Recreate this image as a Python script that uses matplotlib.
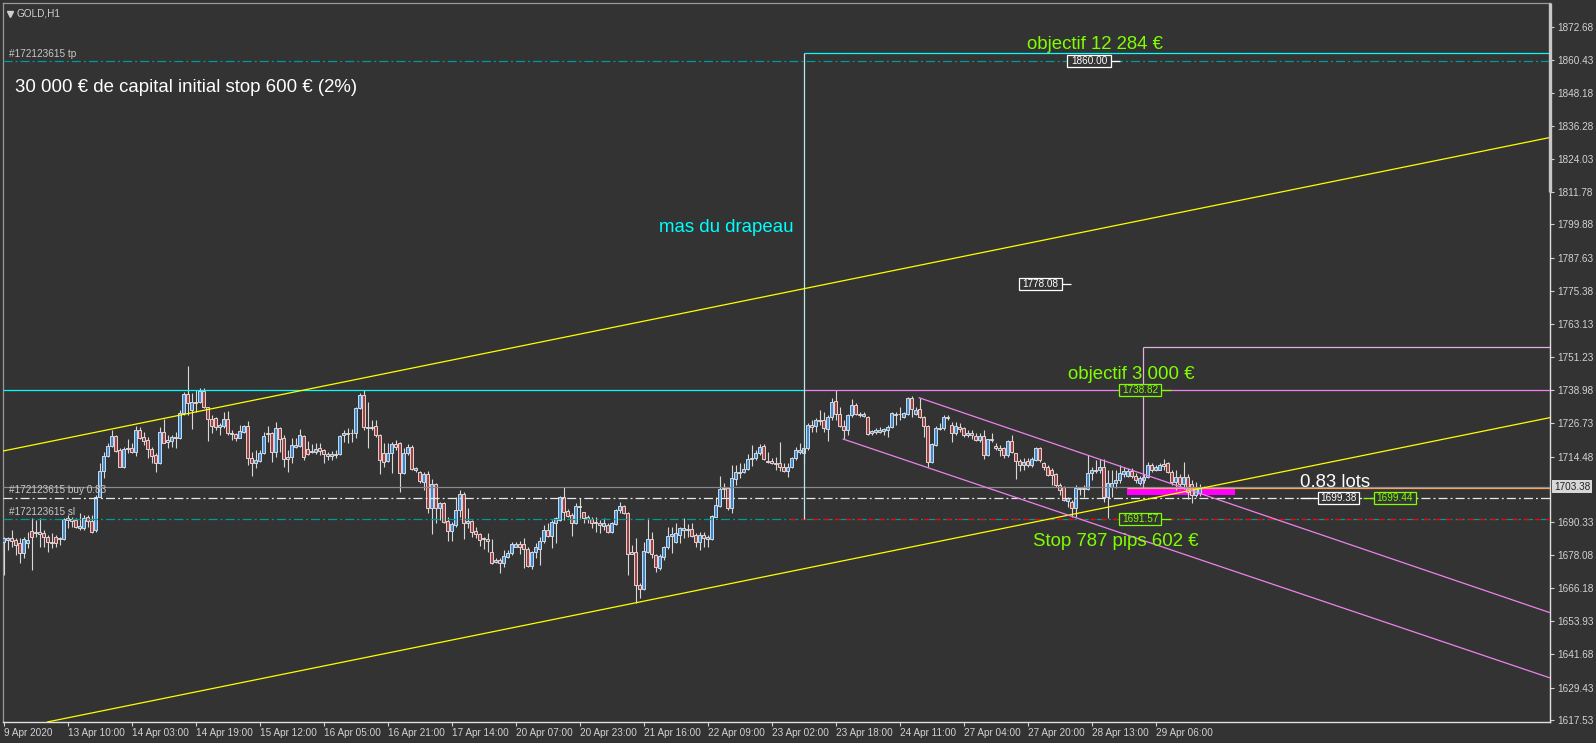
import numpy as np
import matplotlib.pyplot as plt
from matplotlib.patches import Rectangle

plt.rcParams['font.family'] = ['Liberation Sans', 'DejaVu Sans']
plt.rcParams['lines.scale_dashes'] = False

# ---- GOLD H1 candles ----
opens = [1682.9, 1683.9, 1684.4, 1683.8, 1682.8, 1678.9, 1682.8, 1687.2, 1686.2, 1686.6,
         1686.5, 1684.7, 1682.9, 1684.7, 1684.1, 1684.3, 1691.1, 1691.5, 1691.1, 1688.1,
         1688.1, 1692.1, 1690.9, 1687.4, 1699.7, 1709.3, 1714.7, 1718.5, 1722.0, 1716.9,
         1710.5, 1717.1, 1717.5, 1716.0, 1724.3, 1721.8, 1720.6, 1717.1, 1714.9, 1712.0,
         1723.4, 1720.6, 1720.3, 1721.2, 1721.2, 1730.4, 1737.5, 1731.6, 1734.4, 1734.4,
         1738.7, 1732.6, 1728.3, 1728.5, 1725.5, 1725.7, 1728.2, 1723.3, 1722.7, 1721.4,
         1723.6, 1725.7, 1713.8, 1712.0, 1713.0, 1715.7, 1722.8, 1723.3, 1716.3, 1724.9,
         1721.2, 1714.4, 1714.2, 1718.1, 1718.5, 1722.0, 1717.3, 1716.6, 1716.3, 1717.5,
         1716.9, 1715.4, 1714.7, 1715.0, 1715.4, 1722.4, 1722.8, 1723.3, 1723.0, 1732.2,
         1737.1, 1725.5, 1725.0, 1725.7, 1722.4, 1715.7, 1713.0, 1715.7, 1719.0, 1719.3,
         1708.3, 1715.7, 1717.9, 1709.5, 1708.9, 1705.2, 1708.1, 1695.4, 1704.4, 1695.4,
         1697.3, 1690.9, 1687.2, 1689.3, 1694.8, 1700.7, 1689.9, 1690.8, 1687.1, 1686.0,
         1684.4, 1684.1, 1679.5, 1675.5, 1676.4, 1675.2, 1677.6, 1678.9, 1681.3, 1682.3,
         1682.3, 1680.3, 1674.2, 1679.2, 1680.4, 1683.5, 1687.4, 1685.4, 1689.9, 1691.1,
         1699.7, 1694.4, 1693.0, 1689.9, 1696.0, 1693.9, 1692.4, 1691.5, 1690.5, 1690.1,
         1689.0, 1689.3, 1686.8, 1689.7, 1694.8, 1696.3, 1693.8, 1679.4, 1679.4, 1667.2,
         1665.6, 1679.5, 1684.1, 1678.2, 1673.3, 1677.6, 1681.1, 1685.2, 1683.1, 1685.6,
         1687.4, 1687.8, 1687.8, 1685.6, 1683.1, 1685.6, 1684.3, 1684.1, 1692.3, 1696.4,
         1702.4, 1702.8, 1695.4, 1706.1, 1708.5, 1708.7, 1709.8, 1713.5, 1713.8, 1715.7,
         1718.5, 1712.8, 1712.8, 1712.2, 1712.0, 1710.5, 1709.3, 1710.5, 1713.8, 1716.3,
         1715.6, 1717.5, 1726.1, 1725.7, 1727.7, 1728.1, 1724.5, 1729.1, 1734.9, 1730.3,
         1725.7, 1724.2, 1729.7, 1733.4, 1730.3, 1729.4, 1729.1, 1723.0, 1723.5, 1723.6,
         1723.9, 1724.2, 1725.2, 1730.3, 1730.0, 1729.1, 1730.3, 1736.1, 1730.3, 1731.8,
         1729.1, 1725.7, 1712.6, 1718.7, 1724.8, 1724.8, 1729.1, 1726.1, 1723.0, 1725.2,
         1724.8, 1722.4, 1723.0, 1722.1, 1720.5, 1722.0, 1715.0, 1721.1, 1718.3, 1717.5,
         1717.5, 1715.0, 1720.3, 1715.6, 1712.9, 1711.3, 1712.8, 1711.3, 1713.2, 1717.5,
         1712.0, 1710.7, 1709.7, 1708.0, 1704.0, 1703.1, 1698.2, 1697.8, 1695.4, 1702.4,
         1702.8, 1702.4, 1708.3, 1709.7, 1709.5, 1710.7, 1699.7, 1703.4, 1704.6, 1705.8,
         1708.0, 1707.3, 1709.2, 1707.3, 1704.8, 1705.8, 1706.8, 1711.3, 1709.7, 1709.7,
         1711.6, 1712.0, 1708.9, 1705.2, 1707.0, 1704.2, 1706.8, 1704.5, 1700.5, 1701.0, 1703.4]
highs = [1685.0, 1685.0, 1687.4, 1684.4, 1684.4, 1685.0, 1686.8, 1691.7, 1691.1, 1691.7,
         1687.4, 1685.6, 1686.2, 1685.6, 1685.0, 1691.7, 1693.0, 1692.4, 1691.7, 1693.6,
         1693.0, 1693.0, 1693.0, 1700.3, 1712.2, 1716.3, 1719.3, 1724.3, 1722.4, 1717.5,
         1718.1, 1720.8, 1719.3, 1725.7, 1725.2, 1723.6, 1721.5, 1718.1, 1715.7, 1725.5,
         1728.2, 1722.4, 1722.4, 1723.6, 1731.6, 1738.4, 1747.8, 1737.8, 1739.0, 1739.6,
         1739.6, 1732.8, 1729.8, 1729.2, 1726.7, 1731.0, 1731.4, 1724.3, 1723.0, 1726.1,
         1726.1, 1727.7, 1716.3, 1716.9, 1716.9, 1723.6, 1725.7, 1723.6, 1727.3, 1725.2,
         1722.4, 1716.9, 1721.2, 1721.2, 1724.5, 1722.4, 1720.3, 1719.1, 1719.3, 1719.3,
         1717.3, 1716.3, 1716.6, 1716.9, 1722.4, 1724.3, 1724.9, 1724.5, 1732.8, 1737.7,
         1739.0, 1734.7, 1727.9, 1727.9, 1722.8, 1719.3, 1719.6, 1720.0, 1720.6, 1720.0,
         1717.5, 1719.0, 1718.7, 1710.8, 1709.3, 1708.9, 1709.3, 1706.1, 1704.6, 1697.9,
         1697.9, 1692.4, 1690.5, 1699.7, 1702.2, 1701.6, 1695.4, 1691.1, 1688.4, 1686.5,
         1685.0, 1686.5, 1684.0, 1677.0, 1677.0, 1680.1, 1680.1, 1683.1, 1683.1, 1683.5,
         1684.4, 1681.3, 1679.8, 1682.5, 1684.7, 1689.3, 1689.9, 1691.1, 1692.4, 1700.0,
         1703.1, 1695.0, 1693.6, 1697.3, 1699.1, 1694.2, 1693.0, 1692.4, 1692.4, 1691.1,
         1691.7, 1689.9, 1690.5, 1695.0, 1697.9, 1696.6, 1694.2, 1681.9, 1684.4, 1667.8,
         1683.1, 1691.7, 1686.8, 1678.6, 1678.6, 1681.6, 1688.7, 1688.7, 1689.9, 1688.7,
         1691.7, 1689.7, 1689.9, 1686.5, 1686.8, 1686.8, 1685.6, 1693.0, 1699.7, 1707.3,
         1704.6, 1703.4, 1711.4, 1711.4, 1712.0, 1712.0, 1715.4, 1718.7, 1716.9, 1719.0,
         1719.0, 1716.3, 1713.8, 1714.2, 1719.8, 1712.0, 1712.0, 1714.4, 1717.9, 1719.3,
         1718.7, 1726.7, 1727.9, 1728.5, 1731.6, 1731.0, 1729.7, 1735.9, 1739.0, 1732.8,
         1727.9, 1730.3, 1735.5, 1734.0, 1731.0, 1731.0, 1729.4, 1724.2, 1724.8, 1725.2,
         1724.8, 1726.1, 1731.0, 1731.0, 1732.8, 1731.0, 1736.5, 1736.7, 1732.8, 1736.2,
         1729.4, 1726.1, 1719.6, 1725.7, 1726.7, 1729.7, 1729.7, 1727.3, 1727.3, 1726.7,
         1725.2, 1724.2, 1724.2, 1723.0, 1723.0, 1724.2, 1721.1, 1723.0, 1719.6, 1718.7,
         1718.1, 1720.5, 1722.4, 1715.9, 1713.4, 1713.8, 1713.8, 1714.4, 1718.1, 1718.1,
         1712.6, 1711.3, 1710.1, 1708.3, 1704.6, 1703.6, 1699.7, 1698.4, 1704.0, 1703.4,
         1704.0, 1715.0, 1710.7, 1713.2, 1713.4, 1713.4, 1709.5, 1709.5, 1709.5, 1711.3,
         1710.5, 1710.1, 1710.1, 1708.3, 1707.3, 1708.0, 1712.6, 1712.0, 1711.3, 1712.2,
         1713.4, 1712.6, 1709.5, 1709.5, 1708.0, 1712.6, 1708.0, 1706.0, 1705.0, 1704.5, 1703.8]
lows = [1670.9, 1680.1, 1681.3, 1678.2, 1675.2, 1677.0, 1680.7, 1672.7, 1685.0, 1681.3,
        1681.3, 1679.5, 1680.7, 1681.3, 1681.9, 1683.8, 1688.1, 1688.7, 1688.1, 1687.4,
        1687.4, 1688.7, 1686.2, 1686.8, 1699.7, 1706.5, 1714.4, 1718.1, 1716.3, 1710.8,
        1710.1, 1715.7, 1715.7, 1714.7, 1720.8, 1718.7, 1713.8, 1712.0, 1708.9, 1711.7,
        1719.3, 1717.5, 1718.1, 1717.5, 1720.8, 1729.8, 1729.8, 1724.6, 1731.0, 1734.1,
        1732.2, 1720.3, 1723.0, 1724.3, 1722.4, 1724.9, 1722.4, 1720.6, 1720.3, 1721.2,
        1723.0, 1711.4, 1707.3, 1710.1, 1712.6, 1715.4, 1720.0, 1712.6, 1714.4, 1716.3,
        1710.8, 1708.9, 1712.0, 1717.5, 1718.1, 1713.2, 1715.0, 1715.7, 1715.4, 1715.0,
        1712.2, 1713.2, 1713.2, 1713.8, 1715.0, 1720.0, 1719.6, 1720.0, 1721.2, 1731.9,
        1724.3, 1717.5, 1724.3, 1721.8, 1708.1, 1710.8, 1712.6, 1708.5, 1716.9, 1701.6,
        1708.1, 1715.0, 1709.5, 1708.9, 1704.6, 1702.2, 1693.6, 1685.8, 1689.9, 1691.1,
        1689.9, 1683.5, 1683.5, 1688.7, 1692.4, 1684.0, 1688.1, 1685.0, 1684.4, 1681.6,
        1680.3, 1679.5, 1674.9, 1675.2, 1671.7, 1674.0, 1677.0, 1678.2, 1681.1, 1678.6,
        1673.3, 1673.7, 1673.0, 1677.0, 1674.6, 1682.5, 1685.0, 1680.7, 1682.5, 1690.9,
        1691.1, 1692.1, 1685.4, 1689.7, 1691.7, 1689.9, 1689.9, 1688.1, 1686.8, 1686.5,
        1687.4, 1686.5, 1686.5, 1689.3, 1693.6, 1693.3, 1670.9, 1678.6, 1660.6, 1662.3,
        1665.4, 1678.9, 1677.0, 1672.1, 1672.7, 1676.4, 1680.3, 1679.1, 1682.5, 1682.5,
        1684.4, 1685.0, 1685.0, 1681.3, 1680.1, 1681.3, 1681.1, 1683.8, 1692.1, 1696.0,
        1699.7, 1694.8, 1693.6, 1704.0, 1706.5, 1708.3, 1709.5, 1711.0, 1713.2, 1715.0,
        1713.2, 1712.0, 1711.7, 1709.5, 1709.3, 1708.9, 1707.1, 1710.1, 1713.2, 1715.4,
        1712.0, 1716.9, 1723.6, 1723.6, 1726.1, 1723.6, 1720.3, 1727.9, 1727.9, 1725.2,
        1721.1, 1722.4, 1729.1, 1729.7, 1729.1, 1728.9, 1722.4, 1722.4, 1722.7, 1723.0,
        1722.4, 1721.8, 1724.8, 1726.1, 1727.9, 1728.5, 1729.7, 1729.1, 1729.7, 1728.5,
        1721.8, 1710.7, 1712.2, 1718.3, 1724.2, 1724.2, 1727.9, 1719.9, 1722.4, 1723.6,
        1721.8, 1721.8, 1721.1, 1720.3, 1719.9, 1713.4, 1714.6, 1719.9, 1716.9, 1714.6,
        1714.1, 1714.4, 1715.9, 1706.1, 1709.2, 1709.5, 1710.7, 1710.5, 1712.9, 1712.6,
        1709.5, 1707.3, 1704.0, 1703.4, 1700.3, 1698.2, 1696.0, 1692.3, 1692.3, 1700.3,
        1699.7, 1702.1, 1705.8, 1708.3, 1708.3, 1697.8, 1691.7, 1699.7, 1702.8, 1704.6,
        1707.0, 1707.0, 1706.4, 1704.6, 1704.0, 1704.6, 1706.4, 1708.9, 1709.1, 1709.5,
        1709.7, 1708.3, 1704.0, 1702.1, 1703.0, 1702.5, 1698.8, 1697.5, 1699.5, 1699.8, 1702.9]
closes = [1684.4, 1684.4, 1683.5, 1681.9, 1678.9, 1684.0, 1683.8, 1684.7, 1686.8, 1686.1,
          1685.0, 1682.9, 1682.5, 1682.8, 1684.6, 1691.4, 1691.7, 1690.9, 1688.7, 1688.9,
          1691.7, 1690.9, 1686.8, 1699.7, 1709.3, 1714.7, 1718.5, 1722.0, 1716.6, 1710.8,
          1717.3, 1717.5, 1716.0, 1724.3, 1721.2, 1720.3, 1717.1, 1714.7, 1712.0, 1723.4,
          1719.6, 1719.8, 1721.5, 1721.8, 1730.4, 1737.5, 1734.3, 1734.7, 1734.1, 1738.7,
          1732.8, 1728.2, 1725.7, 1725.2, 1726.1, 1728.2, 1723.0, 1722.8, 1721.4, 1723.9,
          1725.7, 1713.8, 1712.0, 1713.2, 1715.7, 1722.0, 1723.3, 1716.3, 1724.9, 1720.8,
          1713.5, 1713.5, 1718.7, 1718.7, 1722.3, 1714.4, 1715.4, 1716.0, 1717.3, 1716.6,
          1715.4, 1714.8, 1715.4, 1715.4, 1722.0, 1723.0, 1723.3, 1723.0, 1732.2, 1737.1,
          1725.2, 1725.1, 1725.5, 1722.4, 1713.2, 1712.6, 1715.7, 1719.1, 1717.9, 1708.3,
          1715.7, 1717.9, 1709.9, 1710.1, 1705.5, 1708.1, 1695.4, 1704.4, 1695.4, 1697.3,
          1690.5, 1687.2, 1689.7, 1694.8, 1700.7, 1689.9, 1690.8, 1686.8, 1685.8, 1683.8,
          1684.0, 1683.5, 1675.2, 1676.4, 1675.2, 1677.9, 1679.1, 1682.2, 1682.3, 1681.3,
          1680.3, 1674.2, 1679.5, 1681.0, 1683.4, 1687.4, 1685.4, 1690.5, 1691.7, 1699.7,
          1694.2, 1692.6, 1689.9, 1696.3, 1696.4, 1692.0, 1691.4, 1690.1, 1689.9, 1689.3,
          1689.9, 1686.8, 1689.9, 1694.8, 1696.3, 1693.6, 1678.6, 1678.6, 1667.2, 1665.6,
          1679.7, 1684.1, 1678.6, 1673.7, 1677.9, 1681.3, 1685.2, 1686.0, 1686.5, 1688.1,
          1688.1, 1687.4, 1685.4, 1683.1, 1685.6, 1684.4, 1684.7, 1692.6, 1696.6, 1702.4,
          1703.0, 1695.4, 1706.5, 1708.9, 1708.9, 1709.9, 1713.6, 1713.8, 1715.7, 1718.1,
          1713.5, 1712.4, 1712.0, 1711.7, 1710.5, 1709.3, 1710.5, 1713.8, 1716.9, 1716.9,
          1717.5, 1726.1, 1725.4, 1727.9, 1728.1, 1724.8, 1729.1, 1734.6, 1730.3, 1725.7,
          1724.2, 1729.7, 1733.4, 1730.3, 1729.7, 1730.1, 1722.7, 1723.9, 1724.2, 1724.2,
          1724.6, 1725.2, 1730.6, 1729.7, 1730.3, 1730.6, 1735.9, 1731.8, 1731.6, 1729.1,
          1725.7, 1712.6, 1719.1, 1724.8, 1724.5, 1729.1, 1728.5, 1723.0, 1725.7, 1724.6,
          1722.4, 1723.0, 1722.4, 1720.5, 1722.1, 1715.0, 1720.8, 1720.5, 1717.8, 1716.9,
          1715.0, 1720.3, 1716.2, 1712.9, 1711.3, 1712.6, 1711.3, 1713.4, 1717.5, 1713.2,
          1710.7, 1707.7, 1707.7, 1704.0, 1702.1, 1698.4, 1699.1, 1695.4, 1702.8, 1702.8,
          1702.4, 1708.3, 1709.7, 1709.2, 1710.7, 1699.7, 1704.6, 1704.6, 1705.8, 1708.5,
          1709.2, 1709.2, 1707.3, 1705.8, 1706.4, 1707.0, 1711.3, 1709.5, 1710.7, 1711.3,
          1711.0, 1708.9, 1705.2, 1707.0, 1704.2, 1706.8, 1701.5, 1700.5, 1702.8, 1703.4, 1703.38]

date_pos = [0, 16, 32, 48, 64, 80, 96, 112, 128, 144, 160, 176, 192, 208, 224, 240, 256, 272, 288]
date_labels = ['9 Apr 2020', '13 Apr 10:00', '14 Apr 03:00', '14 Apr 19:00', '15 Apr 12:00',
               '16 Apr 05:00', '16 Apr 21:00', '17 Apr 14:00', '20 Apr 07:00', '20 Apr 23:00',
               '21 Apr 16:00', '22 Apr 09:00', '23 Apr 02:00', '23 Apr 18:00', '24 Apr 11:00',
               '27 Apr 04:00', '27 Apr 20:00', '28 Apr 13:00', '29 Apr 06:00']
price_ticks = [1872.68, 1860.43, 1848.18, 1836.28, 1824.03, 1811.78, 1799.88, 1787.63,
               1775.38, 1763.13, 1751.23, 1738.98, 1726.73, 1714.48, 1690.33, 1678.08,
               1666.18, 1653.93, 1641.68, 1629.43, 1617.53]

bid = 1703.38
entry = 1699.38
stop = 1691.57
tp = 1860.00
flag_level = 1738.82
pole_top = 1863.0
target_top = 1754.8

# trend objects: (bar0, price0, bar1, price1)
chan_up = (-0.15, 1716.5, 386.6, 1831.9)
chan_low = (11.0, 1616.8, 386.6, 1728.8)
flag_up = (228.9, 1736.1, 386.6, 1657.0)
flag_low = (209.9, 1720.9, 386.6, 1633.0)

bg = '#333333'
fg = '#d2d2d2'
green = '#7fff00'
cyan = '#00ffff'
violet = '#ee82ee'
teal = '#009a9a'
wick_col = '#d8d8d8'

fig = plt.figure(figsize=(15.96, 7.43), dpi=100, facecolor=bg)
ax = fig.add_axes([3 / 1596, 21 / 743, 1547 / 1596, 719 / 743])
ax.set_facecolor(bg)
XL, XR = -0.15, 386.6
ax.set_xlim(XL, XR)
ax.set_ylim(1616.77, 1881.4)

# magenta zone (behind candles)
ax.add_patch(Rectangle((280.85, 1700.3), 27.0, 2.5, fc='#ff00ff', ec='none', zorder=1))

# candles
x = np.arange(len(opens))
o = np.array(opens)
c = np.array(closes)
up = c >= o
ax.vlines(x, lows, highs, color=wick_col, lw=0.8, zorder=3)
ax.bar(x[up], (c - o)[up], bottom=o[up], width=0.7, color='#2f8be0',
       edgecolor=wick_col, linewidth=0.7, zorder=4)
ax.bar(x[~up], (o - c)[~up], bottom=c[~up], width=0.7, color='#b03a3a',
       edgecolor=wick_col, linewidth=0.7, zorder=4)

dashdot = (0, (6.5, 2.2, 1.4, 2.2))

# horizontal / vertical objects
ax.axhline(bid, color='#8a8a8a', lw=0.9, zorder=5)
ax.hlines(1702.8, 280.85, XR, color='#f4a460', lw=0.9, zorder=5)
ax.axhline(entry, color='#e8e8e8', lw=0.9, ls=dashdot, zorder=5)
ax.axhline(tp, color=teal, lw=0.9, ls=dashdot, zorder=5)
ax.axhline(stop, color=teal, lw=0.9, ls=dashdot, zorder=5)
ax.hlines(stop, 196.5, XR, color='#ff0000', lw=0.9, ls=(0, (4, 4)), zorder=5)

ax.hlines(flag_level, XL, 200.1, color=cyan, lw=0.9, zorder=5)
ax.hlines(flag_level, 200.1, XR, color=violet, lw=0.9, zorder=5)
ax.hlines(pole_top, 200.1, XR, color=cyan, lw=0.9, zorder=5)
ax.vlines(200.1, stop, pole_top, color='#b8e8e8', lw=0.9, zorder=5)
ax.hlines(target_top, 284.85, XR, color='#e0b0e0', lw=0.9, zorder=5)
ax.vlines(284.85, 1702.8, target_top, color='#e0b0e0', lw=0.9, zorder=5)

for x0, p0, x1, p1 in (chan_up, chan_low):
    ax.plot([x0, x1], [p0, p1], color='#ffff00', lw=0.9, zorder=5)
for x0, p0, x1, p1 in (flag_up, flag_low):
    ax.plot([x0, x1], [p0, p1], color=violet, lw=0.9, zorder=5)

# price boxes
def box_label(xc, price, text, col, w_px=43):
    bw = w_px / 4.0
    bh = 12 / 2.717
    ax.add_patch(Rectangle((xc - bw / 2, price - bh / 2), bw, bh, fc=bg, ec=col, lw=0.9, zorder=8))
    ax.text(xc, price, text, color=col, fontsize=7.2, ha='center', va='center', zorder=9)

box_label(271.35, tp, '1860.00', 'white', 44)
ax.hlines(tp, 276.85, 279.1, color='white', lw=0.9, zorder=8)
box_label(259.2, 1778.08, '1778.08', 'white', 43)
ax.hlines(1778.08, 264.6, 266.85, color='white', lw=0.9, zorder=8)
box_label(284.1, flag_level, '1738.82', green, 42)
ax.hlines(flag_level, 289.35, 291.85, color=green, lw=0.9, zorder=8)
box_label(284.1, stop, '1691.57', green, 42)
ax.hlines(stop, 289.35, 291.85, color=green, lw=0.9, zorder=8)
box_label(333.7, entry, '1699.38', 'white', 41)
ax.hlines(entry, 324.1, 328.6, color='white', lw=0.9, zorder=8)
box_label(347.85, entry, '1699.44', green, 42)
ax.hlines(entry, 339.85, 342.6, color=green, lw=0.9, zorder=8)

# order labels
small = dict(color='#c8c8c8', fontsize=7.2, ha='left', va='center', zorder=9)
ax.text(1.4, 1862.6, '#172123615 tp', **small)
ax.text(1.4, 1702.2, '#172123615 buy 0.83', **small)
ax.text(1.4, 1693.9, '#172123615 sl', **small)

# annotations
big = dict(fontsize=13.4, va='center', zorder=10)
ax.text(2.85, 1850.4, '30 000 € de capital initial stop 600 € (2%)', color='white', ha='left', **big)
ax.text(272.85, 1866.2, 'objectif 12 284 €', color=green, ha='center', **big)
ax.text(180.7, 1798.7, 'mas du drapeau', color=cyan, ha='center', **big)
ax.text(281.85, 1744.5, 'objectif 3 000 €', color=green, ha='center', **big)
ax.text(277.98, 1683.3, 'Stop 787 pips 602 €', color=green, ha='center', **big)
ax.text(332.98, 1704.8, '0.83 lots', color='white', ha='center', **big)

# symbol title
ax.plot([0.0045], [0.985], marker='v', ms=4, color='#d0d0d0', transform=ax.transAxes, clip_on=False)
ax.text(0.009, 0.985, 'GOLD,H1', color='#d0d0d0', fontsize=7.2, ha='left', va='center',
        transform=ax.transAxes)

# axes
for side in ('left', 'top'):
    ax.spines[side].set_color('#9a9a9a')
    ax.spines[side].set_linewidth(0.9)
for side in ('right', 'bottom'):
    ax.spines[side].set_color('#e0e0e0')
    ax.spines[side].set_linewidth(1.0)

ax.yaxis.tick_right()
ax.set_yticks(price_ticks)
ax.set_yticklabels([f'{v:.2f}' for v in price_ticks])
ax.tick_params(axis='y', direction='out', length=3, width=0.8, color='#d0d0d0',
               labelcolor=fg, labelsize=7.2, pad=2.5)
ax.set_xticks(date_pos)
ax.set_xticklabels(date_labels)
for lbl in ax.get_xticklabels():
    lbl.set_horizontalalignment('left')
ax.tick_params(axis='x', direction='out', length=3, width=0.8, color='#d0d0d0',
               labelcolor=fg, labelsize=7.2, pad=1.5)

# bid price tag on the price scale
ax.text(1.0025, bid, '1703.38', color='#202020', fontsize=7.2, ha='left', va='center',
        transform=ax.get_yaxis_transform(), clip_on=False,
        bbox=dict(boxstyle='square,pad=0.15', fc='#d8d8d8', ec='none'))
# scale marker at top of price axis
ax.plot([1.0, 1.0], [1811.8, 1881.4], color='#c8c8c8', lw=2.4, transform=ax.get_yaxis_transform(),
        clip_on=False, solid_capstyle='butt', zorder=10)

fig.savefig('out.png', dpi=100, facecolor=bg)
